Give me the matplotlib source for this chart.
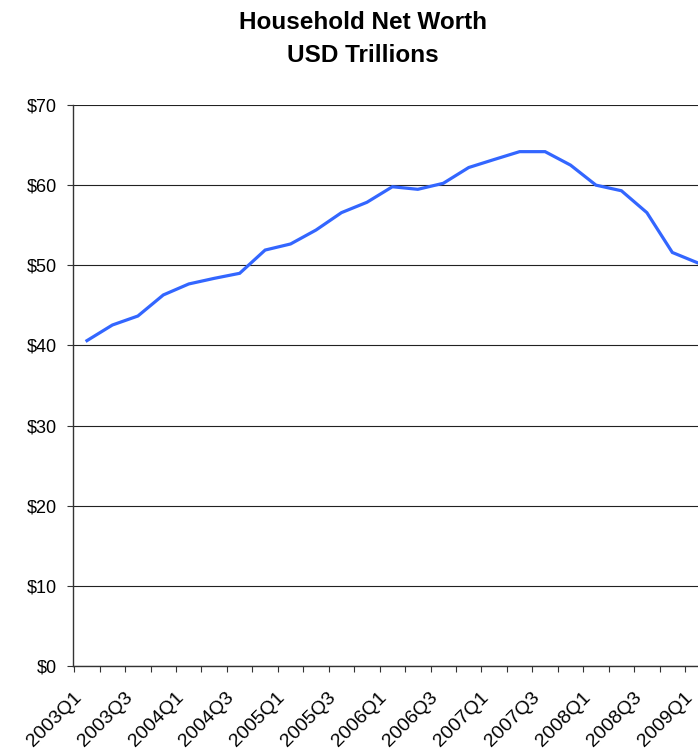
import numpy as np
import matplotlib.pyplot as plt

plt.rcParams['font.family'] = ['Liberation Sans', 'DejaVu Sans']

quarters = [f"{y}Q{q}" for y in range(2003, 2010) for q in range(1, 5)][:25]
net_worth = [40.6, 42.55, 43.67, 46.3, 47.67, 48.37, 49.0, 51.9, 52.66, 54.4,
             56.57, 57.86, 59.8, 59.48, 60.23, 62.2, 63.2, 64.18, 64.18, 62.5,
             60.0, 59.3, 56.57, 51.6, 50.3]
y_ticks = [0, 10, 20, 30, 40, 50, 60, 70]

W, H = 698, 754
fig = plt.figure(figsize=(W / 100, H / 100), dpi=100)

# category axis, last category runs past the right edge of the figure
left, right, top, bottom = 73, 710.5, 105, 666
ax = fig.add_axes([left / W, 1 - bottom / H, (right - left) / W, (bottom - top) / H])

x = np.arange(len(net_worth))
ax.plot(x, net_worth, color='#3366ff', lw=2.3, solid_joinstyle='miter', zorder=3)

ax.set_xlim(-0.5, len(net_worth) - 0.5)
ax.set_ylim(0, 70)

ax.set_yticks(y_ticks)
ax.set_yticklabels([f"${v}" for v in y_ticks])
ax.tick_params(axis='y', length=4.3, width=0.8, pad=7, labelsize=13, color='#333333')
ax.yaxis.grid(True, color='#222222', lw=0.8)

# tick marks on category boundaries, labels on every second category
# (label anchors sit a little left of the category centre)
cat_px = (right - left) / len(net_worth)
ax.set_xticks(np.arange(-0.5, len(net_worth) - 0.5, 1.0), minor=True)
ax.tick_params(axis='x', which='minor', length=4.3, width=0.8, color='#333333')
ax.set_xticks(x[::2] - 14 / cat_px)
ax.set_xticklabels(quarters[::2], rotation=45, ha='right', va='top', rotation_mode='anchor')
ax.tick_params(axis='x', which='major', length=0, pad=16.5, labelsize=14)

for s in ['top', 'right']:
    ax.spines[s].set_visible(False)
for s in ['left', 'bottom']:
    ax.spines[s].set_color('#333333')
    ax.spines[s].set_linewidth(1.0)
ax.set_axisbelow(True)

fig.text(363 / W, 1 - 39 / H, "Household Net Worth\nUSD Trillions", ha='center', va='center',
         fontsize=17.5, fontweight='bold', linespacing=1.6)

fig.savefig('out.png', dpi=100)
